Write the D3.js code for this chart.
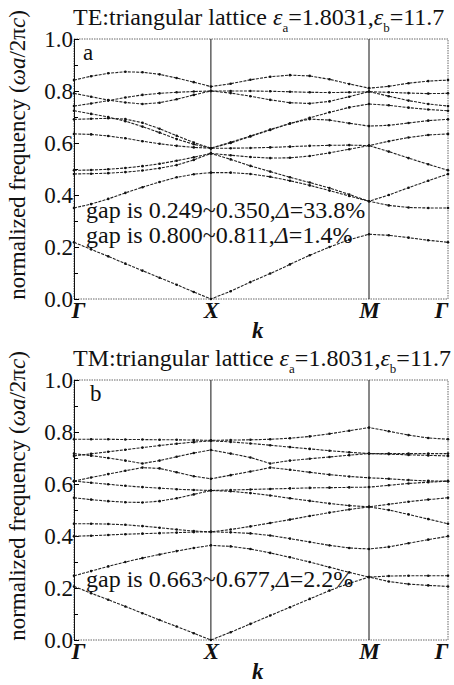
<!DOCTYPE html>
<html>
<head>
<meta charset="UTF-8">
<title>band structure</title>
<script src="https://cdn.jsdelivr.net/npm/d3@7"></script>
<style>
  body { margin: 0; background: #fff; }
  text { fill: #111; }
  .band { fill: none; stroke: #222; stroke-width: 1.1px; stroke-dasharray: 3 1.2; }
  .dot { fill: #111; }
  .frame { fill: none; stroke: #666; stroke-width: 1px; stroke-dasharray: 1.5 1; }
</style>
</head>
<body>
<svg id="fig"></svg>
<script>
// k path G-X-M-G, segment lengths 1, 2/sqrt3, 1/sqrt3
var kLabels = ["Γ", "X", "M", "Γ"];
var kTicks = [0, 1, 2.155, 2.732];
var kSteps = [8, 8, 4];
var yTicks = [0, 0.2, 0.4, 0.6, 0.8, 1.0];
var yMinorTicks = [0.1, 0.3, 0.5, 0.7, 0.9];

// TE bands: 9 pts G-X, 8 pts X-M, 4 pts M-G
var te1  = [0.218,0.191,0.164,0.136,0.109,0.082,0.055,0.027,0, 0.03,0.065,0.098,0.133,0.168,0.2,0.228,0.249, 0.245,0.236,0.226,0.218];
var te2  = [0.35,0.365,0.385,0.408,0.43,0.45,0.468,0.48,0.486, 0.486,0.481,0.47,0.455,0.437,0.417,0.396,0.376, 0.36,0.352,0.35,0.35];
var te3  = [0.481,0.482,0.484,0.488,0.494,0.503,0.515,0.535,0.56, 0.537,0.512,0.49,0.468,0.448,0.427,0.402,0.376, 0.4,0.428,0.455,0.481];
var te4  = [0.495,0.496,0.499,0.504,0.511,0.52,0.532,0.545,0.56, 0.553,0.546,0.542,0.543,0.55,0.562,0.576,0.59, 0.567,0.542,0.518,0.495];
var te5  = [0.635,0.633,0.627,0.618,0.607,0.597,0.589,0.583,0.58, 0.58,0.581,0.583,0.586,0.589,0.591,0.592,0.59, 0.607,0.621,0.631,0.635];
var te6  = [0.691,0.693,0.695,0.692,0.678,0.655,0.628,0.602,0.58, 0.603,0.627,0.652,0.675,0.692,0.688,0.676,0.665, 0.668,0.677,0.686,0.691];
var te7  = [0.724,0.712,0.7,0.684,0.663,0.64,0.615,0.595,0.58, 0.6,0.625,0.65,0.675,0.697,0.718,0.737,0.75, 0.745,0.736,0.729,0.724];
var te8  = [0.742,0.752,0.763,0.775,0.785,0.791,0.795,0.798,0.8, 0.792,0.78,0.766,0.755,0.752,0.76,0.778,0.798, 0.78,0.763,0.75,0.742];
var te9  = [0.791,0.778,0.765,0.756,0.75,0.755,0.768,0.785,0.8, 0.8,0.8,0.799,0.797,0.795,0.794,0.795,0.797, 0.795,0.792,0.79,0.791];
var te10 = [0.842,0.857,0.868,0.874,0.872,0.864,0.85,0.834,0.817, 0.828,0.843,0.855,0.861,0.858,0.845,0.827,0.811, 0.818,0.83,0.838,0.842];

// TM bands
var tm1  = [0.206,0.18,0.155,0.129,0.103,0.077,0.052,0.026,0, 0.03,0.062,0.094,0.126,0.158,0.19,0.218,0.242, 0.225,0.215,0.21,0.206];
var tm2  = [0.247,0.265,0.283,0.3,0.315,0.329,0.342,0.354,0.364, 0.36,0.35,0.335,0.318,0.3,0.28,0.26,0.242, 0.246,0.247,0.247,0.247];
var tm3  = [0.399,0.401,0.404,0.407,0.409,0.411,0.413,0.415,0.416, 0.414,0.41,0.402,0.39,0.377,0.364,0.354,0.35, 0.358,0.372,0.386,0.399];
var tm4  = [0.447,0.447,0.446,0.443,0.438,0.432,0.425,0.419,0.416, 0.425,0.437,0.45,0.463,0.477,0.49,0.502,0.512, 0.5,0.483,0.465,0.447];
var tm5  = [0.547,0.54,0.534,0.53,0.529,0.534,0.545,0.56,0.575, 0.572,0.565,0.556,0.545,0.535,0.525,0.517,0.512, 0.522,0.532,0.54,0.547];
var tm6  = [0.611,0.605,0.599,0.593,0.588,0.584,0.58,0.577,0.575, 0.577,0.579,0.581,0.583,0.585,0.586,0.587,0.588, 0.595,0.602,0.607,0.611];
var tm7  = [0.611,0.625,0.638,0.651,0.663,0.66,0.645,0.63,0.62, 0.634,0.648,0.663,0.655,0.645,0.636,0.629,0.624, 0.62,0.615,0.612,0.611];
var tm8  = [0.717,0.709,0.7,0.69,0.679,0.69,0.705,0.719,0.731, 0.717,0.702,0.679,0.69,0.697,0.704,0.711,0.717, 0.717,0.717,0.717,0.717];
var tm9  = [0.708,0.716,0.724,0.732,0.74,0.748,0.755,0.761,0.766, 0.762,0.756,0.749,0.742,0.735,0.728,0.722,0.717, 0.715,0.712,0.71,0.708];
var tm10 = [0.772,0.772,0.772,0.771,0.771,0.77,0.77,0.769,0.768, 0.769,0.77,0.772,0.776,0.783,0.793,0.805,0.817, 0.803,0.788,0.777,0.772];

var teBands = [te1, te2, te3, te4, te5, te6, te7, te8, te9, te10];
var tmBands = [tm1, tm2, tm3, tm4, tm5, tm6, tm7, tm8, tm9, tm10];

var teGaps = ["0.249~0.350,|Δ|=33.8%", "0.800~0.811,|Δ|=1.4%"];
var tmGaps = ["0.663~0.677,|Δ|=2.2%"];

// k values along the path
var kGrid = [kTicks[0]];
kSteps.forEach(function (n, s) {
    for (var i = 1; i <= n; i++) {
        kGrid.push(kTicks[s] + (kTicks[s + 1] - kTicks[s]) * i / n);
    }
});

var W = 454, H = 685;
var left = 74, right = 448;
var svg = d3.select("#fig").attr("width", W).attr("height", H);

var x = d3.scaleLinear().domain([kTicks[0], kTicks[3]]).range([left, right]);

function drawPanel(top, bottom, bands, mode, letter, gaps, gapY) {
    var y = d3.scaleLinear().domain([0, 1]).range([bottom, top]);
    var g = svg.append("g");

    // title
    var t = g.append("text").attr("x", 73).attr("y", top - 14).style("font-size", "24px");
    t.append("tspan").text(mode + ":triangular lattice ");
    t.append("tspan").style("font-style", "italic").text("ε");
    t.append("tspan").attr("dy", 7).style("font-size", "13px").text("a");
    t.append("tspan").attr("dy", -7).text("=1.8031,");
    t.append("tspan").style("font-style", "italic").text("ε");
    t.append("tspan").attr("dy", 7).style("font-size", "13px").text("b");
    t.append("tspan").attr("dy", -7).text("=11.7");

    // frame
    g.append("rect").attr("class", "frame")
        .attr("x", left).attr("y", top)
        .attr("width", right - left).attr("height", bottom - top);

    // vertical lines at X and M
    g.selectAll("line.sym").data(kTicks.slice(1, 3)).enter().append("line")
        .attr("x1", x).attr("x2", x)
        .attr("y1", y(0)).attr("y2", y(1))
        .attr("stroke", "#111").attr("stroke-width", 1);

    // left axis
    var ax = g.append("g").attr("transform", "translate(" + left + ",0)")
        .call(d3.axisLeft(y).tickValues(yTicks).tickSizeInner(-5).tickSizeOuter(0)
            .tickPadding(1).tickFormat(d3.format(".1f")));
    ax.select(".domain").attr("stroke", "#111");
    ax.selectAll("text").style("font-size", "23px").attr("fill", "#111");
    var axm = g.append("g").attr("transform", "translate(" + left + ",0)")
        .call(d3.axisLeft(y).tickValues(yMinorTicks).tickSizeInner(-4).tickSizeOuter(0).tickFormat(""));
    axm.select(".domain").remove();

    // bottom k labels
    var bx = g.append("g").attr("transform", "translate(0," + bottom + ")")
        .call(d3.axisBottom(x).tickValues(kTicks).tickSize(0).tickPadding(3)
            .tickFormat(function (d, i) { return kLabels[i]; }));
    bx.select(".domain").remove();
    bx.selectAll("text").style("font-size", "23px").style("font-weight", "bold")
        .style("font-style", "italic").attr("fill", "#111");
    bx.selectAll(".tick").filter(function (d, i) { return i === 0; })
        .select("text").attr("x", 4);
    bx.selectAll(".tick").filter(function (d, i) { return i === 3; })
        .select("text").attr("text-anchor", "end").attr("x", 0);

    g.append("text").attr("x", 252).attr("y", bottom + 39)
        .style("font-size", "23px").style("font-weight", "bold").style("font-style", "italic")
        .text("k");

    // y label
    var yl = g.append("text")
        .attr("transform", "translate(25," + ((top + bottom) / 2 - 14) + ") rotate(-90)")
        .attr("text-anchor", "middle").style("font-size", "23px");
    yl.append("tspan").text("normalized frequency (");
    yl.append("tspan").style("font-style", "italic").text("ωa");
    yl.append("tspan").text("/2π");
    yl.append("tspan").style("font-style", "italic").text("c");
    yl.append("tspan").text(")");

    // panel letter
    g.append("text").attr("x", letter === "a" ? 83 : 90).attr("y", top + 21)
        .style("font-size", "23px").text(letter);

    // bands
    var line = d3.line().x(function (d, i) { return x(kGrid[i]); }).y(function (d) { return y(d); });
    g.selectAll("path.band").data(bands).enter().append("path")
        .attr("class", "band").attr("d", line);
    bands.forEach(function (b) {
        g.selectAll(null).data(b).enter().append("circle").attr("class", "dot")
            .attr("cx", function (d, i) { return x(kGrid[i]); })
            .attr("cy", function (d) { return y(d); })
            .attr("r", 1.3);
    });

    // gap notes
    gaps.forEach(function (s, j) {
        var parts = s.split("|");
        var tx = g.append("text").attr("x", 86).attr("y", gapY[j]).style("font-size", "24px");
        tx.append("tspan").text("gap is " + parts[0]);
        tx.append("tspan").style("font-style", "italic").text(parts[1]);
        tx.append("tspan").text(parts[2]);
    });
}

drawPanel(39, 299, teBands, "TE", "a", teGaps, [218, 243]);
drawPanel(380, 640, tmBands, "TM", "b", tmGaps, [587]);

// serif everywhere, set inline so axis defaults do not win
svg.selectAll("text").style("font-family", "'Liberation Serif', serif");
</script>
</body>
</html>
